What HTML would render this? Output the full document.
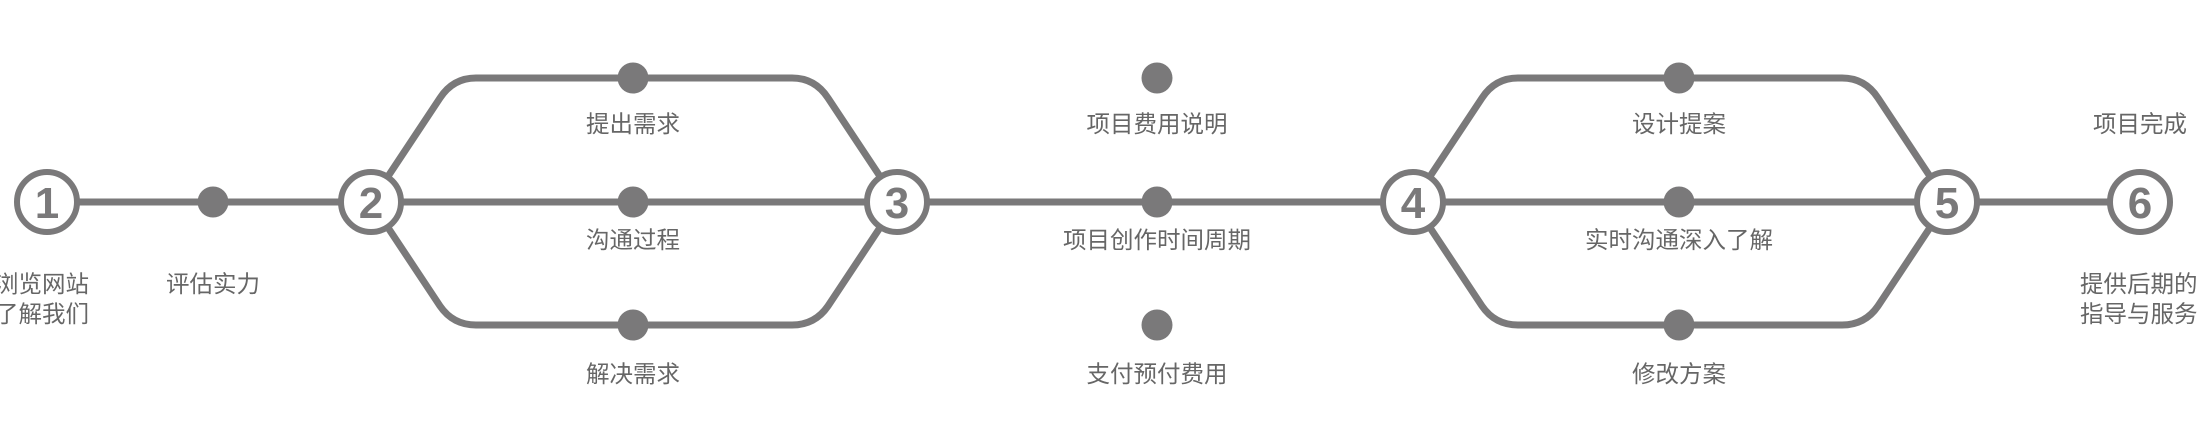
<!DOCTYPE html>
<html><head><meta charset="utf-8"><style>
html,body{margin:0;padding:0;background:#fff;width:2200px;height:428px;overflow:hidden}
svg text{font-family:"Liberation Sans","Noto Sans CJK SC",sans-serif}
</style></head><body>
<svg width="2200" height="428" viewBox="0 0 2200 428" xmlns="http://www.w3.org/2000/svg">
<g fill="none" stroke="#7a797a" stroke-width="7" stroke-linecap="round">
<line x1="47" y1="202" x2="2140" y2="202"/>
<path d="M371,202 L440,98 Q453,78 476,78 L792,78 Q815,78 828,98 L897,202"/>
<path d="M371,202 L440,306 Q453,325 476,325 L792,325 Q815,325 828,306 L897,202"/>
<path d="M1413,202 L1482,98 Q1495,78 1518,78 L1842,78 Q1865,78 1878,98 L1947,202"/>
<path d="M1413,202 L1482,306 Q1495,325 1518,325 L1842,325 Q1865,325 1878,306 L1947,202"/>
</g>
<g fill="#7a797a">
<circle cx="213" cy="202" r="15.5"/>
<circle cx="633" cy="78" r="15.5"/><circle cx="633" cy="202" r="15.5"/><circle cx="633" cy="325" r="15.5"/>
<circle cx="1157" cy="78" r="15.5"/><circle cx="1157" cy="202" r="15.5"/><circle cx="1157" cy="325" r="15.5"/>
<circle cx="1679" cy="78" r="15.5"/><circle cx="1679" cy="202" r="15.5"/><circle cx="1679" cy="325" r="15.5"/>
</g>
<g fill="#fff" stroke="#7a797a" stroke-width="6">
<circle cx="47" cy="202" r="30"/><circle cx="371" cy="202" r="30"/><circle cx="897" cy="202" r="30"/>
<circle cx="1413" cy="202" r="30"/><circle cx="1947" cy="202" r="30"/><circle cx="2140" cy="202" r="30"/>
</g>
<g fill="#7a797a" font-size="44" font-weight="bold" text-anchor="middle">
<text x="47" y="218">1</text><text x="371" y="218">2</text><text x="897" y="218">3</text>
<text x="1413" y="218">4</text><text x="1947" y="218">5</text><text x="2140" y="218">6</text>
</g>
<g fill="#666" font-size="23.5" text-anchor="middle">
<text x="42" y="292">浏览网站</text><text x="42" y="322">了解我们</text>
<text x="213" y="292">评估实力</text>
<text x="633" y="132">提出需求</text><text x="633" y="248">沟通过程</text><text x="633" y="382">解决需求</text>
<text x="1157" y="132">项目费用说明</text><text x="1157" y="248">项目创作时间周期</text><text x="1157" y="382">支付预付费用</text>
<text x="1679" y="132">设计提案</text><text x="1679" y="248">实时沟通深入了解</text><text x="1679" y="382">修改方案</text>
<text x="2140" y="132">项目完成</text>
</g>
<g fill="#666" font-size="23.5">
<text x="2080" y="292">提供后期的</text><text x="2080" y="322">指导与服务</text>
</g>
</svg>
</body></html>
